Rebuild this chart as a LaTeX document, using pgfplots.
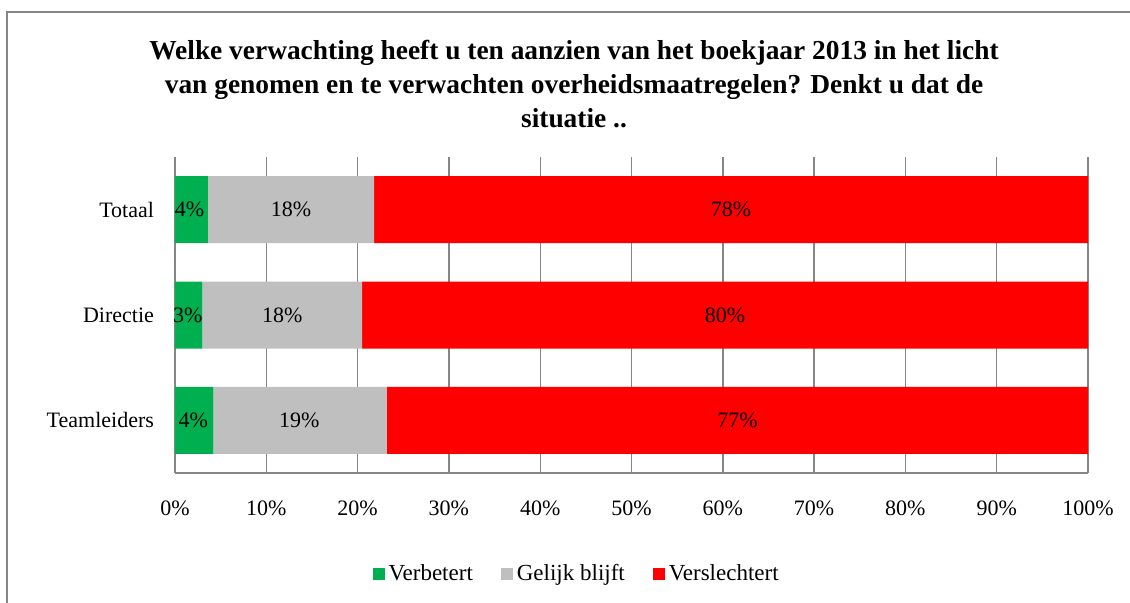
\documentclass[border=0pt]{standalone}
\usepackage{fontspec}
\setmainfont{Liberation Serif}
\usepackage{pgfplots}
\pgfplotsset{compat=1.18}
\usepackage{pgfplotstable}
\definecolor{cgreen}{HTML}{00B050}
\definecolor{cgrey}{HTML}{BFBFBF}
\definecolor{cred}{HTML}{FF0000}
\definecolor{cax}{HTML}{868686}

\pgfplotstableread{
y green grey red
0 4.2 19.0 76.8
1 3.0 17.5 79.5
2 3.6 18.2 78.2
}\data

\pgfplotstableread{
x y lab
2.0 0 4
13.6 0 19
61.6 0 77
1.4 1 3
11.75 1 18
60.25 1 80
1.6 2 4
12.7 2 18
60.9 2 78
}\labels

\newcommand{\lblfont}{\fontsize{11}{13}\selectfont}

\begin{document}
\begin{tikzpicture}
\path[use as bounding box] (0,0) rectangle (565pt,301pt);
\draw[cax, line width=0.7pt] (570pt,295pt) -- (3.5pt,295pt) -- (3.5pt,-5pt);
\node[font=\bfseries\fontsize{13.7}{16}\selectfont, anchor=base] at (287pt,271.5pt) {Welke verwachting heeft u ten aanzien van het boekjaar 2013 in het licht};
\node[font=\bfseries\fontsize{13.7}{16}\selectfont, anchor=base] at (287pt,254.5pt) {van genomen en te verwachten overheidsmaatregelen? Denkt u dat de};
\node[font=\bfseries\fontsize{13.7}{16}\selectfont, anchor=base] at (287pt,237.5pt) {situatie ..};
\begin{axis}[
  at={(87.5pt,64.5pt)}, anchor=south west,
  scale only axis, width=456.5pt, height=158pt,
  xbar stacked, bar width=33.5pt,
  xmin=0, xmax=100, ymin=-0.5, ymax=2.5,
  ytick={0,1,2}, yticklabels={Teamleiders,Directie,Totaal},
  xtick={0,10,...,100},
  /pgf/number format/assume math mode=true,
  xticklabel={\pgfmathprintnumber{\tick}\%},
  major tick length=0pt,
  axis x line*=bottom, axis y line*=left,
  axis line style={cax, line width=0.7pt},
  xmajorgrids, grid style={cax, line width=0.7pt},
  yticklabel style={xshift=-7pt, font=\lblfont},
  xticklabel style={yshift=-10.5pt, font=\lblfont},
  legend columns=3,
  legend style={at={(0.441,-0.32)}, anchor=center, draw=none, font=\fontsize{11.5}{13}\selectfont,
    /tikz/every even column/.append style={column sep=12pt}},
  legend image code/.code={\fill[#1] (0pt,-3pt) rectangle (6pt,3pt);},
]
\addplot[fill=cgreen, draw=none] table[x=green, y=y] \data;
\addlegendentry{Verbetert}
\addplot[fill=cgrey, draw=none] table[x=grey, y=y] \data;
\addlegendentry{Gelijk blijft}
\addplot[fill=cred, draw=none] table[x=red, y=y] \data;
\addlegendentry{Verslechtert}
\end{axis}
\begin{axis}[
  at={(87.5pt,64.5pt)}, anchor=south west,
  scale only axis, width=456.5pt, height=158pt,
  xmin=0, xmax=100, ymin=-0.5, ymax=2.5, hide axis,
  /pgf/number format/assume math mode=true,
]
\addplot[only marks, mark=*, mark size=0pt, mark options={draw=none, fill=none},
  point meta=explicit,
  nodes near coords={\pgfmathprintnumber[fixed,precision=0]{\pgfplotspointmeta}\%},
  every node near coord/.append style={anchor=center, font=\lblfont, text=black}]
  table[x=x, y=y, meta=lab] \labels;
\end{axis}
\end{tikzpicture}
\end{document}
